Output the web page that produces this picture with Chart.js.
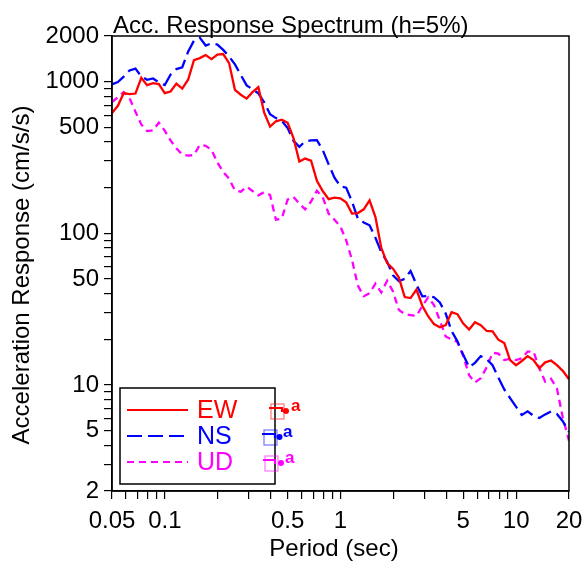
<!DOCTYPE html>
<html>
<head>
<meta charset="utf-8">
<script src="https://cdn.jsdelivr.net/npm/chart.js@4.4.0/dist/chart.umd.min.js"></script>
<style>
  body { margin: 0; background: #fff; }
  #wrap { width: 584px; height: 563px; position: relative; }
</style>
</head>
<body>
<div id="wrap"><canvas id="spectrum"></canvas></div>
<script>
// period (sec)
var periods = [0.05, 0.054, 0.0583, 0.0629, 0.068, 0.0734, 0.0792, 0.0856, 0.0924, 0.0998,
  0.1077, 0.1163, 0.1256, 0.1356, 0.1464, 0.1581, 0.1707, 0.1843, 0.1991, 0.2149,
  0.2321, 0.2506, 0.2706, 0.2922, 0.3155, 0.3406, 0.3678, 0.3972, 0.4289, 0.4631,
  0.5, 0.54, 0.583, 0.629, 0.68, 0.734, 0.792, 0.856, 0.924, 0.998,
  1.077, 1.163, 1.256, 1.356, 1.464, 1.581, 1.707, 1.843, 1.991, 2.149,
  2.321, 2.506, 2.706, 2.922, 3.155, 3.406, 3.678, 3.972, 4.289, 4.631,
  5.0, 5.4, 5.83, 6.29, 6.8, 7.34, 7.92, 8.56, 9.24, 9.98,
  10.77, 11.63, 12.56, 13.56, 14.64, 15.81, 17.07, 18.43, 20];

// acceleration response (cm/s/s)
var ew = [620, 693, 841, 828, 835, 1059, 949, 978, 963, 841,
  861, 970, 900, 1030, 1387, 1430, 1497, 1408, 1508, 1520,
  1325, 884, 820, 773, 853, 920, 624, 505, 548, 561,
  535, 425, 297, 311, 301, 222, 190, 168, 172, 170,
  160, 135, 136, 144, 165, 128, 80, 63.6, 58.5, 51.1,
  38.0, 37.4, 42.6, 33.3, 28.4, 25.2, 24.0, 24.8, 30.2, 29.3,
  25.4, 23.2, 25.9, 24.8, 22.7, 22.6, 19.9, 18.9, 14.6, 13.5,
  14.4, 15.5, 14.6, 12.9, 14.1, 14.5, 13.5, 12.4, 10.9];

var ns = [960, 994, 1080, 1185, 1220, 1083, 1029, 1050, 989, 950,
  1113, 1210, 1244, 1575, 1862, 1950, 1730, 1790, 1756, 1620,
  1465, 1300, 1107, 945, 890, 837, 730, 610, 575, 552,
  494, 407, 372, 404, 410, 411, 354, 285, 233, 204,
  200, 162, 125, 118, 113, 93.5, 75, 65, 52.8, 48.3,
  50.1, 56.5, 46.0, 38.4, 38.6, 37.9, 35.0, 29.6, 22.7, 19.4,
  15.8, 13.1, 14.0, 15.5, 14.8, 13.5, 11.2, 9.35, 8.2, 7.2,
  6.34, 6.7, 6.26, 6.05, 6.4, 6.7, 6.44, 5.77, 4.9];

var ud = [733, 790, 853, 778, 634, 522, 472, 477, 537, 475,
  410, 364, 330, 325, 328, 383, 378, 355, 293, 254,
  229, 192, 188, 203, 190, 178, 187, 179, 123, 125,
  167, 174, 157, 144, 162, 191, 173, 135, 123, 111,
  90, 66.7, 45.2, 38.5, 40.3, 46.6, 40.7, 48.7, 41.3, 31.3,
  29.3, 28.9, 28.5, 33.2, 37.8, 33.7, 26.6, 20.9, 20.0, 19.2,
  15.5, 11.6, 10.4, 11.1, 13.1, 16.3, 16.1, 14.6, 14.9, 14.6,
  15.0, 16.6, 16.6, 12.9, 10.5, 11.0, 9.5, 6.1, 4.3];

var seriesNames = ['EW', 'NS', 'UD'];

var xTicks = [0.05, 0.06, 0.07, 0.08, 0.09, 0.1, 0.2, 0.3, 0.4, 0.5, 0.6, 0.7, 0.8, 0.9,
  1, 2, 3, 4, 5, 6, 7, 8, 9, 10, 20];
var xLabels = [0.05, 0.1, 0.5, 1, 5, 10, 20];
var yTicks = [2, 3, 4, 5, 6, 7, 8, 9, 10, 20, 30, 40, 50, 60, 70, 80, 90,
  100, 200, 300, 400, 500, 600, 700, 800, 900, 1000, 2000];
var yLabels = [2, 5, 10, 50, 100, 500, 1000, 2000];

var FONT = '"Liberation Sans", Arial, sans-serif';

function pairs(vals) {
  return vals.map(function (v, i) { return { x: periods[i], y: v }; });
}

// title, axis titles, frame and the boxed legend
var decorations = {
  id: 'decorations',
  afterDraw: function (chart) {
    var ctx = chart.ctx;
    var a = chart.chartArea;
    ctx.save();

    ctx.strokeStyle = '#000';
    ctx.lineWidth = 1.5;
    ctx.strokeRect(a.left, a.top, a.right - a.left, a.bottom - a.top);

    ctx.fillStyle = '#000';
    ctx.font = '24px ' + FONT;
    ctx.textAlign = 'left';
    ctx.textBaseline = 'alphabetic';
    ctx.fillText('Acc. Response Spectrum (h=5%)', a.left + 1, a.top - 3);

    ctx.textAlign = 'center';
    ctx.textBaseline = 'middle';
    ctx.fillText('Period (sec)', 334, 549);
    ctx.save();
    ctx.translate(22, 275);
    ctx.rotate(-Math.PI / 2);
    ctx.fillText('Acceleration Response (cm/s/s)', 0, 0);
    ctx.restore();

    // legend box
    ctx.fillStyle = '#fff';
    ctx.fillRect(120, 388, 155, 96);
    ctx.strokeStyle = '#000';
    ctx.lineWidth = 1.5;
    ctx.strokeRect(120, 388, 155, 96);

    var rows = [410, 436, 462];
    var marks = [[271, 282, 286, 291], [264, 275, 279.5, 283], [265, 275, 281, 285]];
    chart.data.datasets.forEach(function (ds, i) {
      var y = rows[i];
      ctx.strokeStyle = ds.borderColor;
      ctx.lineWidth = 2.2;
      ctx.setLineDash(ds.borderDash || []);
      ctx.beginPath();
      ctx.moveTo(127, y);
      ctx.lineTo(188, y);
      ctx.stroke();
      ctx.setLineDash([]);

      ctx.fillStyle = ds.borderColor;
      ctx.font = '25px ' + FONT;
      ctx.textAlign = 'left';
      ctx.textBaseline = 'middle';
      ctx.fillText(ds.label, 197, y + 1);

      // little symbol marks right of the box
      var m = marks[i];
      ctx.globalAlpha = 0.55;
      ctx.lineWidth = 1.2;
      ctx.strokeRect(m[0], y - 6, 13, 15);
      ctx.globalAlpha = 1;
      ctx.lineWidth = 2.2;
      ctx.beginPath();
      ctx.moveTo(m[0] - 2, y - 2);
      ctx.lineTo(m[1], y - 2);
      ctx.lineTo(m[1], y + 2);
      ctx.stroke();
      ctx.beginPath();
      ctx.arc(m[2], y + 1, 3, 0, Math.PI * 2);
      ctx.fill();
      ctx.font = 'bold 17px ' + FONT;
      ctx.textBaseline = 'alphabetic';
      ctx.fillText('a', m[3], y + 1);
    });

    ctx.restore();
  }
};

new Chart(document.getElementById('spectrum'), {
  type: 'line',
  data: {
    datasets: [
      {
        label: seriesNames[0],
        data: pairs(ew),
        borderColor: '#ff0000',
        borderWidth: 2.3,
        pointRadius: 0,
        tension: 0,
        fill: false
      },
      {
        label: seriesNames[1],
        data: pairs(ns),
        borderColor: '#0000ff',
        borderWidth: 2.3,
        borderDash: [15, 6],
        pointRadius: 0,
        tension: 0,
        fill: false
      },
      {
        label: seriesNames[2],
        data: pairs(ud),
        borderColor: '#ff00ff',
        borderWidth: 2.3,
        borderDash: [7, 5],
        pointRadius: 0,
        tension: 0,
        fill: false
      }
    ]
  },
  options: {
    responsive: true,
    maintainAspectRatio: false,
    animation: false,
    layout: { padding: { top: 36, right: 15, left: 0, bottom: 0 } },
    plugins: {
      legend: { display: false },
      title: { display: false },
      tooltip: { enabled: false }
    },
    scales: {
      x: {
        type: 'logarithmic',
        min: 0.05,
        max: 20,
        afterFit: function (s) {
          s.height = 72;
          s.paddingLeft = 0;
          s.paddingRight = 0;
        },
        afterBuildTicks: function (s) {
          s.ticks = xTicks.map(function (v) { return { value: v }; });
        },
        grid: {
          drawOnChartArea: false,
          drawTicks: true,
          tickLength: 8,
          color: '#000',
          lineWidth: 1.2
        },
        border: { display: true, color: '#000', width: 1.5 },
        ticks: {
          autoSkip: false,
          maxRotation: 0,
          padding: 8,
          color: '#000',
          font: { family: FONT, size: 24 },
          callback: function (v) { return xLabels.indexOf(v) >= 0 ? String(v) : ''; }
        }
      },
      y: {
        type: 'logarithmic',
        min: 2,
        max: 2000,
        afterFit: function (s) {
          s.width = 112;
          s.paddingTop = 0;
          s.paddingBottom = 0;
        },
        afterBuildTicks: function (s) {
          s.ticks = yTicks.map(function (v) { return { value: v }; });
        },
        grid: {
          drawOnChartArea: false,
          drawTicks: true,
          tickLength: 8,
          color: '#000',
          lineWidth: 1.2
        },
        border: { display: true, color: '#000', width: 1.5 },
        ticks: {
          autoSkip: false,
          padding: 5,
          color: '#000',
          font: { family: FONT, size: 24 },
          callback: function (v) { return yLabels.indexOf(v) >= 0 ? String(v) : ''; }
        }
      }
    }
  },
  plugins: [decorations]
});
</script>
</body>
</html>
